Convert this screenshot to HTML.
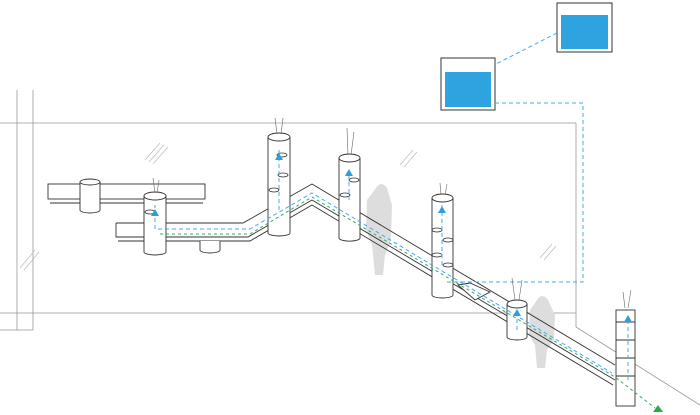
<!DOCTYPE html>
<html><head><style>body{margin:0;background:#fff}svg{display:block}</style></head><body>
<svg width="700" height="415" viewBox="0 0 700 415" xmlns="http://www.w3.org/2000/svg">
<g stroke="#999" stroke-width="0.8" fill="none">
<line x1="17" y1="90" x2="17" y2="330"/><line x1="33" y1="90" x2="33" y2="330"/>
<line x1="0" y1="123" x2="576" y2="123"/>
<line x1="576" y1="123" x2="576" y2="327"/>
<line x1="576" y1="327" x2="700" y2="405"/>
<line x1="0" y1="313" x2="576" y2="313"/>
<line x1="0" y1="330" x2="33" y2="330"/>
</g>
<g stroke="#bbb" stroke-width="0.7">
<line x1="145" y1="160" x2="160" y2="143"/><line x1="149" y1="162" x2="164" y2="145"/><line x1="153" y1="164" x2="168" y2="147"/>
<line x1="400" y1="165" x2="413" y2="150"/><line x1="404" y1="167" x2="417" y2="152"/>
<line x1="20" y1="268" x2="35" y2="250"/><line x1="24" y1="270" x2="39" y2="252"/>
<line x1="540" y1="258" x2="552" y2="244"/><line x1="544" y1="260" x2="556" y2="246"/>
</g>
<rect x="557" y="3" width="55" height="49" fill="#fff" stroke="#333"/>
<rect x="561" y="15" width="47" height="34" fill="#2fa3e0"/>
<rect x="441" y="58" width="54" height="52" fill="#fff" stroke="#333"/>
<rect x="445" y="72" width="46" height="35" fill="#2fa3e0"/>
<!-- people -->
<path d="M376,188 Q381,180 387,188 L392,205 L391,240 L385,255 L383,275 L375,275 L372,245 L366,230 L367,200 Z" fill="#ddd"/>
<path d="M537,300 Q542,292 548,300 L555,315 L554,340 L547,350 L545,368 L537,368 L535,345 L529,335 L530,310 Z" fill="#ddd"/>
<!-- slabs -->
<g stroke="#333" stroke-width="0.9" fill="none">
<rect x="48" y="184" width="157" height="15" fill="#fff"/>
<line x1="50" y1="203" x2="203" y2="203"/>
<polyline points="116,223 243,223 312,184 615,365"/>
<polyline points="116,223 116,237 248,237 312,200 615,380"/>
<polyline points="118,241 250,241 312,205 613,385"/>
<polygon points="458,285 470,283 490,292 475,300" fill="#fff"/>
</g>
<!-- cylinders -->
<g stroke="#333" stroke-width="0.9" fill="#fff">
<path d="M80,182 v28 a10,3 0 0 0 20,0 v-28"/><ellipse cx="90" cy="182" rx="10" ry="3"/>
<path d="M200,241 v9 a10,3 0 0 0 20,0 v-9"/>
<path d="M144,196 v56 a11,3 0 0 0 22,0 v-56"/><ellipse cx="155" cy="196" rx="11" ry="4"/>
<path d="M268,137 v96 a11,3 0 0 0 22,0 v-96"/><ellipse cx="279" cy="137" rx="11" ry="4"/>
<path d="M339,158 v80 a10,3 0 0 0 21,0 v-80"/><ellipse cx="349.5" cy="158" rx="10.5" ry="4"/>
<path d="M432,198 v97 a10.5,3 0 0 0 21,0 v-97"/><ellipse cx="442.5" cy="198" rx="10.5" ry="4"/>
<path d="M507,304 v33 a10,3 0 0 0 20,0 v-33"/><ellipse cx="517" cy="304" rx="10" ry="4"/>
<rect x="616" y="310" width="19" height="96"/>
<line x1="616" y1="322" x2="635" y2="322"/><line x1="616" y1="340" x2="635" y2="340"/><line x1="616" y1="358" x2="635" y2="358"/><line x1="616" y1="376" x2="635" y2="376"/>
</g>
<g stroke="#333" stroke-width="0.8" fill="none">
<ellipse cx="150" cy="212" rx="5" ry="2"/><ellipse cx="282" cy="155" rx="5" ry="2"/><ellipse cx="283" cy="175" rx="5" ry="2"/><ellipse cx="274" cy="190" rx="5" ry="2"/>
<ellipse cx="354" cy="180" rx="5" ry="2"/><ellipse cx="345" cy="195" rx="5" ry="2"/>
<ellipse cx="437" cy="230" rx="5" ry="2"/><ellipse cx="448" cy="240" rx="5" ry="2"/><ellipse cx="437" cy="255" rx="5" ry="2"/><ellipse cx="448" cy="265" rx="5" ry="2"/>
</g>
<!-- dashed lines on top -->
<g stroke="#4aa8e8" stroke-width="1" stroke-dasharray="4,3" fill="none">
<line x1="557" y1="33" x2="496" y2="64"/>
<polyline points="495,103 583,103 583,282 447,282"/>
<polyline points="158,229 250,229 312,193 612,373"/>
<line x1="155" y1="229" x2="155" y2="205"/><line x1="279" y1="210" x2="279" y2="150"/>
<line x1="349" y1="200" x2="349" y2="170"/><line x1="442" y1="265" x2="442" y2="205"/>
<line x1="517" y1="330" x2="517" y2="315"/><line x1="628" y1="380" x2="628" y2="318"/>
</g>
<g stroke="#3aaa5a" stroke-width="1" stroke-dasharray="3,3" fill="none">
<polyline points="160,234 250,234 312,197 615,377 655,408"/>
</g>
<polygon points="653,412 663,412 658,405" fill="#2ea84f"/>
<g stroke="#666" stroke-width="0.6">
<line x1="155" y1="193" x2="153" y2="178"/><line x1="157" y1="193" x2="159" y2="180"/>
<line x1="277" y1="134" x2="275" y2="118"/><line x1="281" y1="134" x2="283" y2="118"/>
<line x1="348" y1="155" x2="347" y2="128"/><line x1="351" y1="155" x2="354" y2="132"/>
<line x1="441" y1="195" x2="440" y2="183"/><line x1="445" y1="195" x2="447" y2="184"/>
<line x1="515" y1="300" x2="512" y2="278"/><line x1="519" y1="300" x2="522" y2="280"/>
<line x1="625" y1="308" x2="623" y2="292"/><line x1="628" y1="308" x2="631" y2="290"/>
</g>
<g fill="#2a9fe0">
<polygon points="151,216 159,216 155,209"/><polygon points="275,160 283,160 279,153"/>
<polygon points="345,176 353,176 349,169"/><polygon points="438,213 446,213 442,206"/>
<polygon points="513,316 521,316 517,309"/><polygon points="624,322 632,322 628,315"/>
</g>
</svg>
</body></html>
